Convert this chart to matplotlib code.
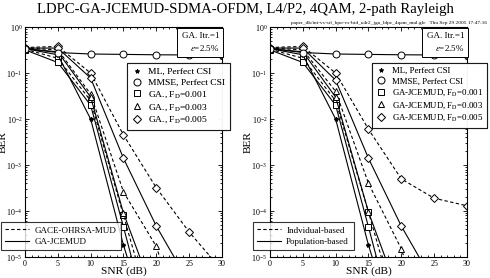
import matplotlib
matplotlib.use("Agg")
import matplotlib.pyplot as plt
from matplotlib.lines import Line2D

plt.rcParams['font.family'] = ['Liberation Serif', 'DejaVu Serif']
plt.rcParams['mathtext.fontset'] = 'stix'

# SNR points (dB)
snr = [0, 5, 10, 15, 20, 25, 30]

# reference curves (same in both panels)
ml_ber = [0.34, 0.25, 0.01, 1.8e-5, 1e-7]
mmse_ber = [0.34, 0.28, 0.26, 0.255, 0.25, 0.248, 0.245]

# left panel: dashed = GACE-OHRSA-MUD, solid = GA-JCEMUD
left_dash_sq = [0.33, 0.21, 0.025, 8e-5, 2.5e-7]
left_dash_tri = [0.35, 0.32, 0.035, 2.6e-4, 1.7e-5, 1e-7]
left_dash_dia = [0.36, 0.38, 0.1, 4.5e-3, 3.2e-4, 3.5e-5, 5.2e-6]
left_solid_sq = [0.32, 0.17, 0.02, 4.5e-5, 9e-8]
left_solid_tri = [0.34, 0.29, 0.03, 9e-5, 1.1e-6]
left_solid_dia = [0.35, 0.35, 0.078, 1.4e-3, 4.7e-5, 2.7e-6]

# right panel: dashed = individual-based, solid = population-based
right_dash_sq = [0.33, 0.21, 0.025, 9.5e-5, 3e-7]
right_dash_tri = [0.35, 0.32, 0.04, 4e-4, 1.5e-5, 1e-7]
right_dash_dia = [0.36, 0.38, 0.1, 6e-3, 5e-4, 1.9e-4, 1.3e-4]
right_solid_sq = [0.32, 0.17, 0.02, 4.5e-5, 9e-8]
right_solid_tri = [0.34, 0.29, 0.03, 9.5e-5, 1.1e-6]
right_solid_dia = [0.35, 0.35, 0.07, 1.4e-3, 4.7e-5, 2.7e-6]

left_marker_labels = ['ML, Perfect CSI', 'MMSE, Perfect CSI',
                      'GA., F$_\\mathrm{D}$=0.001', 'GA., F$_\\mathrm{D}$=0.003',
                      'GA., F$_\\mathrm{D}$=0.005']
right_marker_labels = ['ML, Perfect CSI', 'MMSE, Perfect CSI',
                       'GA-JCEMUD, F$_\\mathrm{D}$=0.001', 'GA-JCEMUD, F$_\\mathrm{D}$=0.003',
                       'GA-JCEMUD, F$_\\mathrm{D}$=0.005']
left_line_labels = ['GACE-OHRSA-MUD', 'GA-JCEMUD']
right_line_labels = ['Indvidual-based', 'Population-based']

markers = ['*', 'o', 's', '^', 'D']
msizes = [3, 5, 5, 5, 4.2]

fig = plt.figure(figsize=(4.9, 2.78), dpi=100)
fig.text(0.5, 0.99, 'LDPC-GA-JCEMUD-SDMA-OFDM, L4/P2, 4QAM, 2-path Rayleigh',
         ha='center', va='top', fontsize=10.6)
fig.text(0.994, 0.91, 'paper_dk/int-vs-srl_bpo-vs-bid_u4r2_jga_ldpc_4qam_mul.gle   Thu Sep 29 2005 17:47:16',
         ha='right', va='bottom', fontsize=3.9)


def curve(ax, y, ls, mk, ms):
    ax.plot(snr[:len(y)], y, color='k', ls=ls, lw=0.8, marker=mk, ms=ms,
            mfc='white', mec='k', mew=0.7, dashes=(3, 2.2) if ls == '--' else (None, None))


def panel(rect, dash, solid, mlabels, llabels, mleg_x, lleg_anchor, fs):
    ax = fig.add_axes(rect)
    ax.set_yscale('log')
    ax.set_xlim(0, 30)
    ax.set_ylim(1e-5, 1)
    for y, mk, ms in zip(dash, markers[2:], msizes[2:]):
        curve(ax, y, '--', mk, ms)
    for y, mk, ms in zip(solid, markers[2:], msizes[2:]):
        curve(ax, y, '-', mk, ms)
    ax.plot(snr[:len(ml_ber)], ml_ber, color='k', lw=0.8, marker='*', ms=3)
    curve(ax, mmse_ber, '-', 'o', 5)

    ax.set_xticks(range(0, 31, 5))
    ax.set_xticks(range(0, 31, 1), minor=True)
    ax.tick_params(which='both', direction='in', top=True, right=True, labelsize=5.8,
                   width=0.6, pad=2)
    ax.tick_params(which='major', length=3)
    ax.tick_params(which='minor', length=1.5)
    for s in ax.spines.values():
        s.set_linewidth(0.8)
    ax.set_xlabel('SNR (dB)', fontsize=8.2, labelpad=-1)
    ax.set_ylabel('BER', fontsize=8.2)
    ax.yaxis.set_label_coords(-0.087, 0.5)

    ax.text(0.985, 0.98, 'GA. Itr.=1\n$\\epsilon$=2.5%', transform=ax.transAxes,
            ha='right', va='top', fontsize=6.5, linespacing=1.35,
            bbox=dict(boxstyle='square,pad=0.45', fc='white', ec='k', lw=0.7))

    mh = [Line2D([], [], ls='none', marker=m, ms=s, color='k', mfc='white' if m != '*' else 'k',
                 mew=0.7) for m, s in zip(markers, msizes)]
    leg1 = ax.legend(mh, mlabels, loc='upper left', bbox_to_anchor=(mleg_x, 0.845),
                     fontsize=fs, frameon=True, fancybox=False, edgecolor='k',
                     handlelength=1.0, handletextpad=0.7, borderpad=0.5,
                     labelspacing=0.25, borderaxespad=0)
    leg1.get_frame().set_linewidth(0.8)
    leg1.set_zorder(5)
    ax.add_artist(leg1)

    lh = [Line2D([], [], color='k', ls='--', lw=0.8, dashes=(3, 2.2)),
          Line2D([], [], color='k', ls='-', lw=0.8)]
    leg2 = fig.legend(lh, llabels, loc='lower left', bbox_to_anchor=lleg_anchor,
                      fontsize=6.5, frameon=True, fancybox=False, edgecolor='k',
                      handlelength=2.6, handletextpad=0.6, borderpad=0.5,
                      labelspacing=0.3, borderaxespad=0)
    leg2.get_frame().set_linewidth(0.8)
    return ax


panel([0.051, 0.0755, 0.402, 0.827],
      [left_dash_sq, left_dash_tri, left_dash_dia],
      [left_solid_sq, left_solid_tri, left_solid_dia],
      left_marker_labels, left_line_labels, 0.52, (0.002, 0.1), 6.8)
panel([0.551, 0.0755, 0.402, 0.827],
      [right_dash_sq, right_dash_tri, right_dash_dia],
      [right_solid_sq, right_solid_tri, right_solid_dia],
      right_marker_labels, right_line_labels, 0.52, (0.516, 0.1), 6.3)

fig.savefig('out.png', dpi=100)
